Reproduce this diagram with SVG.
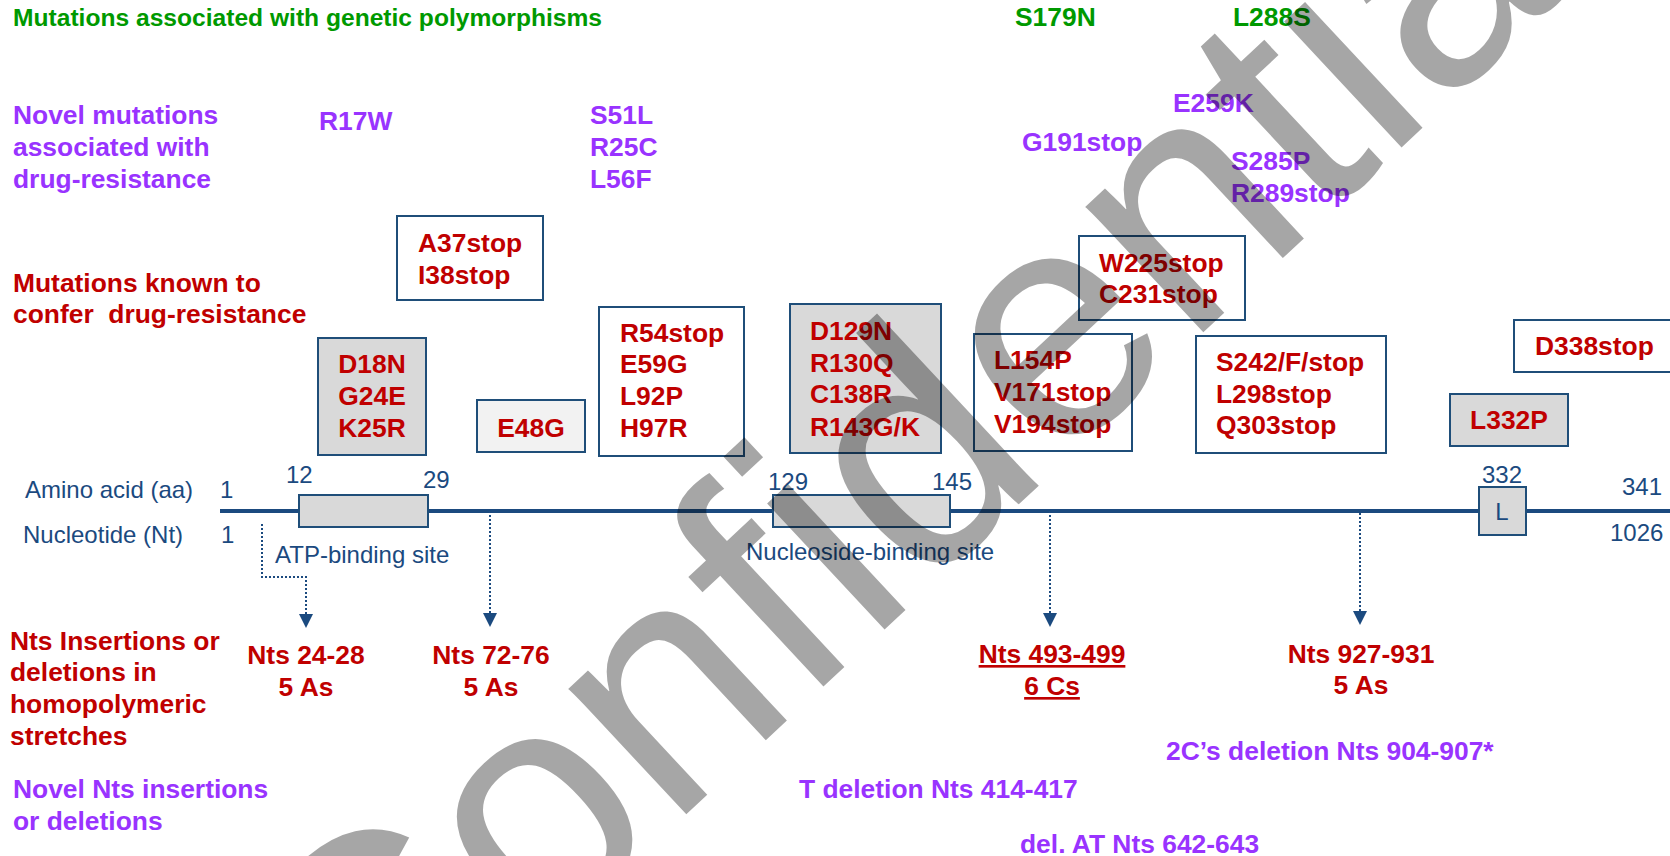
<svg xmlns="http://www.w3.org/2000/svg" width="1670" height="856" viewBox="0 0 1670 856">
<defs>
<style>
text{font-family:"Liberation Sans",Arial,Helvetica,sans-serif}
.b{font-weight:bold;font-size:26.4px}
.t24{font-weight:bold;font-size:24.6px}
.red{fill:#C00000}
.pur{fill:#9933FF}
.grn{fill:#009900}
.lbl{font-size:24px;fill:#1B4A7F}
.mid{text-anchor:middle}
.box{fill:#FFFFFF;stroke:#1F4E79;stroke-width:2}
.gbox{fill:#D9D9D9;stroke:#1F4E79;stroke-width:2}
.lbox{fill:#F2F2F2;stroke:#1F4E79;stroke-width:2}
.conn{fill:none;stroke:#1B4A7F;stroke-width:2;stroke-dasharray:2 2}
.axis{fill:none;stroke:#1B4A7F;stroke-width:4}
.ul{text-decoration:underline}
.wm{font-size:326px;fill:#000000;fill-opacity:0.35}
</style>
<marker id="ah" markerUnits="userSpaceOnUse" markerWidth="14" markerHeight="14" refX="14" refY="7" orient="auto" viewBox="0 0 14 14">
<path d="M0,0 L14,7 L0,14 z" fill="#1B4A7F"/>
</marker>
</defs>
<rect width="1670" height="856" fill="#FFFFFF"/>

<g id="legend">
<text class="t24 grn" x="13" y="26">Mutations associated with genetic polymorphisms</text>
<text class="b pur" x="13" y="124">Novel mutations</text>
<text class="b pur" x="13" y="156">associated with</text>
<text class="b pur" x="13" y="188">drug-resistance</text>
<text class="b red" x="13" y="292">Mutations known to</text>
<text class="b red" x="13" y="323" xml:space="preserve">confer  drug-resistance</text>
<text class="b red" x="10" y="650">Nts Insertions or</text>
<text class="b red" x="10" y="681">deletions in</text>
<text class="b red" x="10" y="713">homopolymeric</text>
<text class="b red" x="10" y="745">stretches</text>
<text class="b pur" x="13" y="798">Novel Nts insertions</text>
<text class="b pur" x="13" y="830">or deletions</text>
</g>

<g id="polymorphisms">
<text class="b grn" x="1015" y="26">S179N</text>
<text class="b grn" x="1233" y="26">L288S</text>
</g>

<g id="novel-mutations">
<text class="b pur" x="319" y="130">R17W</text>
<text class="b pur" x="590" y="124">S51L</text>
<text class="b pur" x="590" y="156">R25C</text>
<text class="b pur" x="590" y="188">L56F</text>
<text class="b pur" x="1173" y="112">E259K</text>
<text class="b pur" x="1022" y="151">G191stop</text>
<text class="b pur" x="1231" y="170">S285P</text>
<text class="b pur" x="1231" y="202">R289stop</text>
</g>

<g id="connectors">
<path class="axis" d="M220,511 H1670"/>
<path class="conn" d="M262,524 V577 H306 V628" marker-end="url(#ah)"/>
<path class="conn" d="M490,515 V627" marker-end="url(#ah)"/>
<path class="conn" d="M1050,515 V627" marker-end="url(#ah)"/>
<path class="conn" d="M1360,513 V625" marker-end="url(#ah)"/>
</g>

<g id="box-a37">
<rect class="box" x="397" y="216" width="146" height="84"/>
<text class="b red" x="418" y="252">A37stop</text>
<text class="b red" x="418" y="284">I38stop</text>
</g>
<g id="box-d18n">
<rect class="gbox" x="318" y="338" width="108" height="117"/>
<text class="b red mid" x="372" y="373">D18N</text>
<text class="b red mid" x="372" y="405">G24E</text>
<text class="b red mid" x="372" y="437">K25R</text>
</g>
<g id="box-e48g">
<rect class="lbox" x="477" y="400" width="108" height="52"/>
<text class="b red mid" x="531" y="437">E48G</text>
</g>
<g id="box-r54">
<rect class="box" x="599" y="307" width="145" height="149"/>
<text class="b red" x="620" y="342">R54stop</text>
<text class="b red" x="620" y="373">E59G</text>
<text class="b red" x="620" y="405">L92P</text>
<text class="b red" x="620" y="437">H97R</text>
</g>
<g id="box-d129n">
<rect class="gbox" x="790" y="304" width="151" height="149"/>
<text class="b red" x="810" y="340">D129N</text>
<text class="b red" x="810" y="372">R130Q</text>
<text class="b red" x="810" y="403">C138R</text>
<text class="b red" x="810" y="436">R143G/K</text>
</g>
<g id="box-l154p">
<rect class="box" x="974" y="334" width="158" height="117"/>
<text class="b red" x="994" y="369">L154P</text>
<text class="b red" x="994" y="401">V171stop</text>
<text class="b red" x="994" y="433">V194stop</text>
</g>
<g id="box-w225">
<rect class="box" x="1079" y="236" width="166" height="84"/>
<text class="b red" x="1099" y="272">W225stop</text>
<text class="b red" x="1099" y="303">C231stop</text>
</g>
<g id="box-s242">
<rect class="box" x="1196" y="336" width="190" height="117"/>
<text class="b red" x="1216" y="371">S242/F/stop</text>
<text class="b red" x="1216" y="403">L298stop</text>
<text class="b red" x="1216" y="434">Q303stop</text>
</g>
<g id="box-d338">
<rect class="box" x="1514" y="320" width="170" height="52"/>
<text class="b red" x="1535" y="355">D338stop</text>
</g>
<g id="box-l332p">
<rect class="gbox" x="1450" y="394" width="118" height="52"/>
<text class="b red mid" x="1509" y="429">L332P</text>
</g>

<g id="gene-axis">
<text class="lbl" x="25" y="498">Amino acid (aa)</text>
<text class="lbl" x="23" y="543">Nucleotide (Nt)</text>
<text class="lbl" x="220" y="498">1</text>
<text class="lbl" x="221" y="543">1</text>
<text class="lbl" x="1622" y="495">341</text>
<text class="lbl" x="1610" y="541">1026</text>
</g>
<g id="atp-site">
<rect class="gbox" x="299" y="495" width="129" height="32"/>
<text class="lbl" x="286" y="483">12</text>
<text class="lbl" x="423" y="488">29</text>
<text class="lbl" x="275" y="563">ATP-binding site</text>
</g>
<g id="nucleoside-site">
<rect class="gbox" x="773" y="495" width="177" height="32"/>
<text class="lbl" x="768" y="490">129</text>
<text class="lbl" x="932" y="490">145</text>
<text class="lbl" x="746" y="560">Nucleoside-binding site</text>
</g>
<g id="site-l">
<rect class="gbox" x="1479" y="487" width="47" height="48"/>
<text class="lbl mid" x="1502" y="520">L</text>
<text class="lbl" x="1482" y="483">332</text>
</g>

<g id="homopolymers">
<text class="b red mid" x="306" y="664">Nts 24-28</text>
<text class="b red mid" x="306" y="696">5 As</text>
<text class="b red mid" x="491" y="664">Nts 72-76</text>
<text class="b red mid" x="491" y="696">5 As</text>
<text class="b red mid ul" x="1052" y="663">Nts 493-499</text>
<text class="b red mid ul" x="1052" y="695">6 Cs</text>
<text class="b red mid" x="1361" y="663">Nts 927-931</text>
<text class="b red mid" x="1361" y="694">5 As</text>
</g>

<g id="novel-indels">
<text class="b pur" x="1166" y="760">2C’s deletion Nts 904-907*</text>
<text class="b pur" x="799" y="798">T deletion Nts 414-417</text>
<text class="b pur" x="1020" y="853">del. AT Nts 642-643</text>
</g>

<g id="watermark">
<text class="wm" transform="translate(365,1114) rotate(-43)">Confidential</text>
</g>
</svg>
